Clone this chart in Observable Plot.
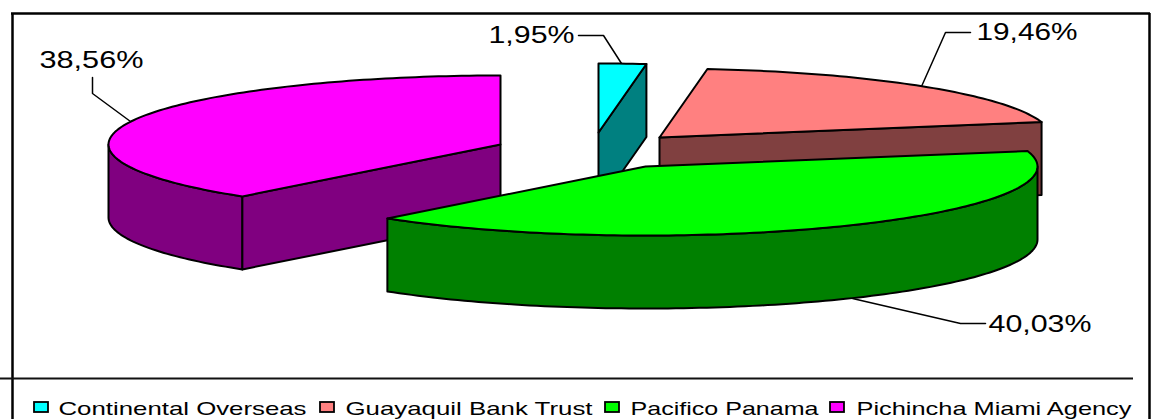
<!DOCTYPE html>
<html>
<head>
<meta charset="utf-8">
<script src="https://cdn.jsdelivr.net/npm/d3@7"></script>
<script src="https://cdn.jsdelivr.net/npm/@observablehq/plot@0.6"></script>
<style>
html,body{margin:0;padding:0;background:#fff;overflow:hidden}
svg{display:block}
text{font-family:"Liberation Sans",Arial,sans-serif}
</style>
</head>
<body>
<div id="chart"></div>
<script>
// Data
const categories = ["Continental Overseas", "Guayaquil Bank Trust", "Pacifico Panama", "Pichincha Miami Agency"];
const shares = [1.95, 19.46, 40.03, 38.56];
const shareLabels = ["1,95%", "19,46%", "40,03%", "38,56%"];
const topColors = ["#00ffff", "#ff8080", "#00ff00", "#ff00ff"];
const wallColors = ["#008080", "#804040", "#008000", "#800080"];

// Pie geometry, in chart units (the chart's domain equals its pixel size)
const W = 1152, H = 419;
const rx = 392, ry = 69, depth = 73;
const apexX = [598, 659, 645, 500];
const apexY = [132, 137, 166, 144];

// Label and legend layout
const labelX = [488, 976, 988, 39];
const labelY = [42, 39, 331, 67];
const labelW = [86, 101, 103, 104];
const leaderX = [[578, 603, 621], [970, 945, 921], [985, 960, 852], [92, 92, 130]];
const leaderY = [[35, 35, 63], [32, 32, 86], [323, 323, 298], [77, 93, 121]];
const swatchX = [34, 320, 605, 830];
const legendX = [58, 345, 630, 856];
const legendW = [248, 247, 188, 275];

// Slices run clockwise from twelve o'clock, in share order
const rad = (p) => (p / 100) * 2 * Math.PI;
let running = 0;
const slices = shares.map((s, i) => {
  const a0 = rad(running); running += s; const a1 = rad(running);
  return {i, a0, a1, cx: apexX[i], cy: apexY[i]};
});
const rim = (s, t) => [s.cx + rx * Math.sin(t), s.cy - ry * Math.cos(t)];
const arc = (s, a, b, drop = 0) => {
  const n = Math.max(2, Math.ceil(Math.abs(b - a) / 0.02));
  return d3.range(n + 1).map((k) => {
    const [x, y] = rim(s, a + (b - a) * k / n);
    return [x, y + drop];
  });
};
const face = (pts, fill, sw = 2) => Plot.line([...pts, pts[0]], {
  x: (d) => d[0], y: (d) => d[1], fill, stroke: "#000", strokeWidth: sw,
  strokeLinejoin: "round", curve: "linear"
});
const topFace = (s) => face([[s.cx, s.cy], ...arc(s, s.a0, s.a1)], topColors[s.i]);
// Cut face that runs from the centre to the rim at angle t
const cutFace = (s, t) => {
  const [x, y] = rim(s, t);
  return face([[s.cx, s.cy], [x, y], [x, y + depth], [s.cx, s.cy + depth]], wallColors[s.i]);
};
// Outer wall between two angles
const wallFace = (s, a, b) => face([...arc(s, a, b), ...arc(s, b, a, depth)], wallColors[s.i]);

const [cyan, pink, green, magenta] = slices;
const leaders = leaderX.map((xs, i) => xs.map((x, k) => ({i, x, y: leaderY[i][k]}))).flat();
const labels = shareLabels.map((text, i) => ({text, x: labelX[i], y: labelY[i], w: labelW[i]}));
const legend = categories.map((text, i) => ({text, i, sx: swatchX[i], x: legendX[i], w: legendW[i]}));

const chart = Plot.plot({
  width: W, height: H,
  margin: 0,
  x: {domain: [0, W], range: [0, W], axis: null},
  y: {domain: [0, H], range: [0, H], axis: null},
  marks: [
    // frame
    Plot.ruleX([12, 1149], {y1: 13, y2: H, stroke: "#000", strokeWidth: 2.5}),
    Plot.ruleY([13], {x1: 11, x2: 1150, stroke: "#000", strokeWidth: 2.5}),
    Plot.ruleY([378], {x1: 0, x2: 1133, stroke: "#111", strokeWidth: 2}),
    // leaders
    Plot.line(leaders, {x: "x", y: "y", z: "i", stroke: "#000", strokeWidth: 1.5}),
    // slices, back to front
    cutFace(cyan, cyan.a1), topFace(cyan),
    cutFace(pink, pink.a1), topFace(pink),
    wallFace(magenta, magenta.a0, rad(75)), cutFace(magenta, magenta.a0), topFace(magenta),
    wallFace(green, rad(25), green.a1), topFace(green),
    // percentage labels
    Plot.text(labels, {x: "x", y: "y", text: "text", textAnchor: "start", lineAnchor: "bottom",
      fontSize: 23, fill: "#000", className: "stretch"}),
    // legend
    ...legend.map((d) => Plot.rect([d], {x1: (e) => e.sx, x2: (e) => e.sx + 14, y1: () => 402, y2: () => 412,
      fill: topColors[d.i], stroke: "#000", strokeWidth: 1.8})),
    Plot.text(legend, {x: "x", y: () => 414, text: "text", textAnchor: "start", lineAnchor: "bottom",
      fontSize: 19, fill: "#000", className: "stretch"})
  ]
});
document.getElementById("chart").appendChild(chart);

// The reference's type is stretched sideways: fit each string to its read width
const groups = chart.querySelectorAll("g.stretch");
[labels, legend].forEach((rows, g) => {
  if (!groups[g]) return;
  groups[g].querySelectorAll("text").forEach((t, k) => {
    t.setAttribute("textLength", rows[k].w);
    t.setAttribute("lengthAdjust", "spacingAndGlyphs");
  });
});
</script>
</body>
</html>
